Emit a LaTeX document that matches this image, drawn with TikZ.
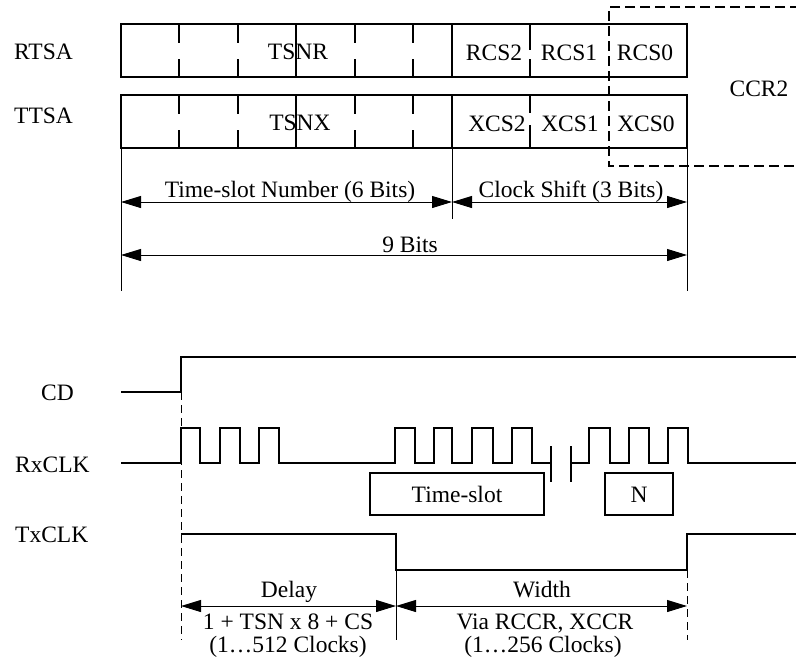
\documentclass[tikz,border=0pt]{standalone}
\usepackage{fontspec}
\setmainfont{Liberation Serif}
\usetikzlibrary{arrows.meta}
\begin{document}
\begin{tikzpicture}[x=1pt,y=-1pt,
  txt/.style={font=\fontsize{23.5}{28}\selectfont, inner sep=0pt, anchor=base},
  lbl/.style={txt, anchor=base west},
  reg/.style={line width=2pt},
  wave/.style={line width=2pt, line join=miter},
  thinline/.style={line width=1pt},
  dim/.style={line width=1pt, {Triangle[length=20pt,width=12pt]}-{Triangle[length=20pt,width=12pt]}},
  guide/.style={line width=1pt, dash pattern=on 8pt off 5pt},
  ccr/.style={line width=2pt, dash pattern=on 10pt off 5pt}]
\useasboundingbox (0,0) rectangle (796,662);

% ---------- register boxes ----------
\draw[reg] (121,24) rectangle (687,77);
\draw[reg] (121,95) rectangle (687,148);
\foreach \x in {179,238,355,413} {
  \draw[reg] (\x,24)--(\x,43) (\x,59)--(\x,77) (\x,95)--(\x,114) (\x,130)--(\x,148);
}
\draw[reg] (296,24)--(296,77) (296,95)--(296,148) (452,24)--(452,77) (452,95)--(452,148);
\draw[reg] (530,24)--(530,50) (530,59)--(530,77) (530,95)--(530,113) (530,125)--(530,148);

% CCR2 dashed frame
\draw[ccr] (800,7) -- (609,7) -- (609,166) -- (800,166);

% labels
\node[lbl] (rtsa) at (14,59) {RTSA};
\node[lbl] (ttsa) at (14,123) {TTSA};
\node[txt] (tsnr) at (298,59) {TSNR};
\node[txt] (tsnx) at (300,130) {TSNX};
\node[txt] (rcs2) at (494,60) {RCS2};
\node[txt] (rcs1) at (569,60) {RCS1};
\node[txt] (rcs0) at (645,60) {RCS0};
\node[txt] (xcs2) at (497,131) {XCS2};
\node[txt] (xcs1) at (570,131) {XCS1};
\node[txt] (xcs0) at (646,131) {XCS0};
\node[txt] (ccr2) at (759,96) {CCR2};

% ---------- bit dimensions ----------
\coordinate (eL) at (121,148); \coordinate (eLb) at (121,291);
\coordinate (eM) at (452,148); \coordinate (eMb) at (452,219);
\coordinate (eR) at (687,148); \coordinate (eRb) at (687,291);
\draw[thinline] (eL) -- (eLb) (eM) -- (eMb) (eR) -- (eRb);
\coordinate (d1L) at (121,202); \coordinate (d1M) at (452,202); \coordinate (d1R) at (687,202);
\coordinate (d2L) at (121,255); \coordinate (d2R) at (687,255);
\draw[dim] (d1L) -- (d1M);
\draw[dim] (d1M) -- (d1R);
\draw[dim] (d2L) -- (d2R);
\node[txt] (tsnum) at (290,197) {Time-slot Number (6 Bits)};
\node[txt] (cshift) at (571,197) {Clock Shift (3 Bits)};
\node[txt] (nine) at (410,252) {9 Bits};

% ---------- timing ----------
\node[lbl] (cd) at (41,400) {CD};
\node[lbl] (rxclk) at (15,472) {RxCLK};
\node[lbl] (txclk) at (15,542) {TxCLK};

\draw[wave] (121,392) -- (181,392) -- (181,357) -- (800,357);

\draw[wave] (121,463) -- (181,463) -- (181,428) -- (200,428) -- (200,463)
  -- (220,463) -- (220,428) -- (240,428) -- (240,463)
  -- (259,463) -- (259,428) -- (279,428) -- (279,463)
  -- (395,463) -- (395,428) -- (415,428) -- (415,463)
  -- (434,463) -- (434,428) -- (452,428) -- (452,463)
  -- (472,463) -- (472,428) -- (493,428) -- (493,463)
  -- (512,463) -- (512,428) -- (532,428) -- (532,463) -- (551,463);
\draw[wave] (551,446) -- (551,482) (571,446) -- (571,482);
\draw[wave] (571,463) -- (589,463) -- (589,428) -- (610,428) -- (610,463)
  -- (629,463) -- (629,428) -- (649,428) -- (649,463)
  -- (668,463) -- (668,428) -- (688,428) -- (688,463) -- (800,463);

\draw[line width=1.3pt] (370,473) rectangle (544,515);
\node[txt] (tslot) at (457,502) {Time-slot};
\draw[line width=1.3pt] (605,473) rectangle (673,515);
\node[txt] (nn) at (639,502) {N};

\draw[wave] (181,534) -- (396,534) -- (396,570) -- (687,570) -- (687,534) -- (800,534);

\coordinate (g1t) at (181,392); \coordinate (g1b) at (181,640);
\coordinate (g2t) at (396,570); \coordinate (g2b) at (396,640);
\coordinate (g3t) at (687,570); \coordinate (g3b) at (687,640);
\draw[guide] (g1t) -- (g1b);
\draw[thinline] (g2t) -- (g2b);
\draw[guide] (g3t) -- (g3b);

\coordinate (aL) at (181,606); \coordinate (aM) at (396,606); \coordinate (aR) at (687,606);
\draw[dim] (aL) -- (aM);
\draw[dim] (aM) -- (aR);
\node[txt] (delay) at (289,597) {Delay};
\node[txt] (form) at (288,629) {1 + TSN x 8 + CS};
\node[txt] (dclk) at (288,652) {(1…512 Clocks)};
\node[txt] (width) at (542,597) {Width};
\node[txt] (via) at (545,629) {Via RCCR, XCCR};
\node[txt] (wclk) at (543,652) {(1…256 Clocks)};
\end{tikzpicture}
\end{document}
